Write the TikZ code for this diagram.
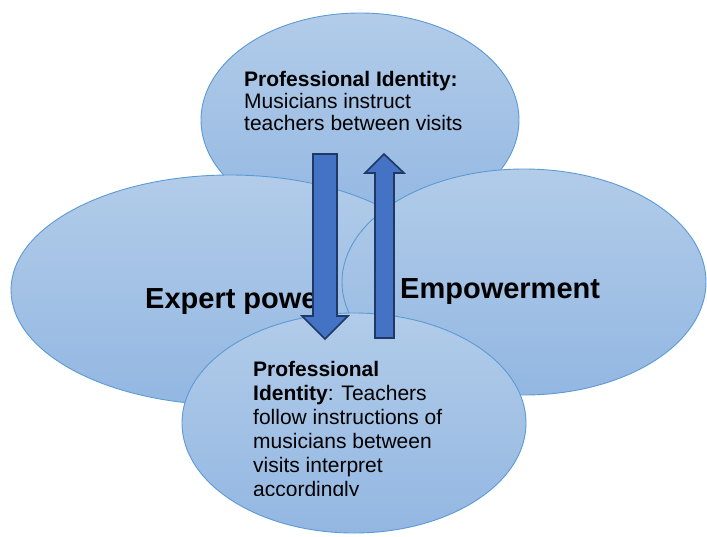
\documentclass[tikz,border=0pt]{standalone}
\usepackage{fontspec}
\setmainfont{Liberation Sans}
\usetikzlibrary{shapes.geometric}
\definecolor{blobtop}{HTML}{B2CCE9}
\definecolor{blobbot}{HTML}{93B7E2}
\definecolor{blobline}{HTML}{5B9BD5}
\definecolor{arrfill}{HTML}{4472C4}
\definecolor{arrline}{HTML}{1F3864}
\tikzset{
  blob/.style={ellipse, draw=blobline, line width=0.9pt, top color=blobtop, bottom color=blobbot, inner sep=0pt},
  txt/.style={anchor=base west, inner sep=0pt, font=\fontsize{21}{22}\selectfont},
  big/.style={anchor=base west, inner sep=0pt, font=\fontsize{29}{32}\selectfont\bfseries},
  blockarrow/.style={fill=arrfill, draw=arrline, line width=1.6pt, line join=miter}
}
\begin{document}
\begin{tikzpicture}[x=1pt,y=-1pt]
\useasboundingbox (0,0) rectangle (707,536);
\fill[white] (0,0) rectangle (707,536);
% top ellipse
\node[blob, minimum width=318pt, minimum height=214pt] (topE) at (360,120) {};
\node[txt] (t1) at (244,86) {\textbf{Professional Identity:}};
\node[txt] (t2) at (244,108) {Musicians instruct};
\node[txt] (t3) at (244,130) {teachers between visits};
% left ellipse
\node[blob, minimum width=438pt, minimum height=230pt] (leftE) at (230,290) {};
\node[big] (expert) at (145,308) {Expert power};
% right ellipse
\node[blob, minimum width=364pt, minimum height=226pt] (rightE) at (524,282) {};
\node[big] (emp) at (400,298) {Empowerment};
% bottom ellipse
\node[blob, minimum width=344pt, minimum height=220pt] (botE) at (354,423) {};
\begin{scope}
\clip (180,300) rectangle (530,495);
\node[txt] (b1) at (253,376) {\textbf{Professional}};
\node[txt] (b2) at (253,400) {\textbf{Identity}: Teachers};
\node[txt] (b3) at (253,424) {follow instructions of};
\node[txt] (b4) at (253,448) {musicians between};
\node[txt] (b5) at (253,472) {visits interpret};
\node[txt] (b6) at (253,496) {accordingly};
\end{scope}
% block arrows
\coordinate (downTip) at (325,339);
\coordinate (upTip) at (384,154);
\draw[blockarrow] (313,154) -- (337,154) -- (337,316) -- (348,316) -- (downTip) -- (302,316) -- (313,316) -- cycle;
\draw[blockarrow] (375,338) -- (394,338) -- (394,173) -- (404,173) -- (upTip) -- (365,173) -- (375,173) -- cycle;
\end{tikzpicture}
\end{document}
